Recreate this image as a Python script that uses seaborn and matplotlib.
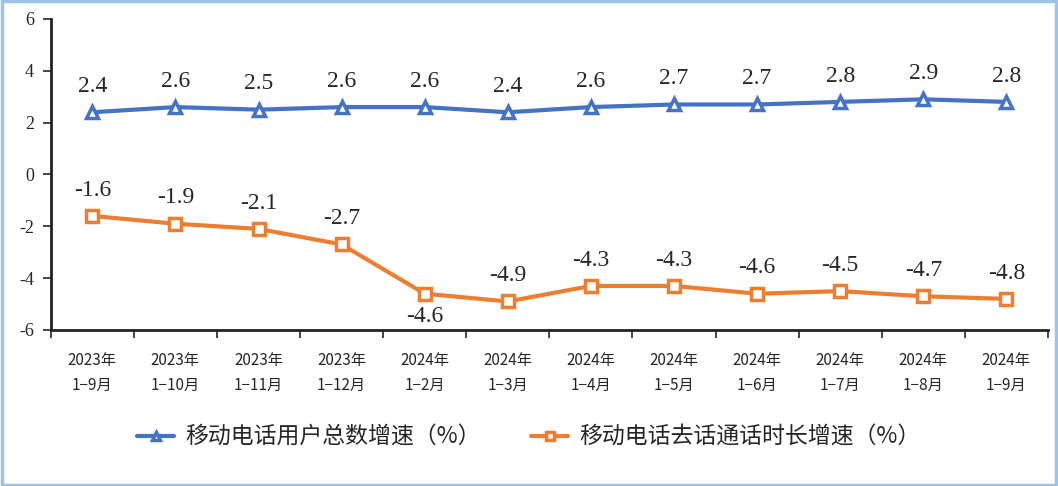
import matplotlib
matplotlib.use("Agg")
import matplotlib.pyplot as plt
import seaborn as sns
import pandas as pd
import numpy as np
from matplotlib.patches import Rectangle

categories = ["2023年\n1−9月", "2023年\n1−10月", "2023年\n1−11月", "2023年\n1−12月",
              "2024年\n1−2月", "2024年\n1−3月", "2024年\n1−4月", "2024年\n1−5月",
              "2024年\n1−6月", "2024年\n1−7月", "2024年\n1−8月", "2024年\n1−9月"]
users_growth = [2.4, 2.6, 2.5, 2.6, 2.6, 2.4, 2.6, 2.7, 2.7, 2.8, 2.9, 2.8]
call_growth = [-1.6, -1.9, -2.1, -2.7, -4.6, -4.9, -4.3, -4.3, -4.6, -4.5, -4.7, -4.8]
series_names = ["移动电话用户总数增速（%）", "移动电话去话通话时长增速（%）"]
yticks = [-6, -4, -2, 0, 2, 4, 6]

sns.set_style("white")
plt.rcParams['font.family'] = ['Noto Sans CJK SC', 'DejaVu Sans']

fig = plt.figure(figsize=(10.58, 4.86), dpi=100)
ax = fig.add_axes([0.048, 0.321, 0.9425, 0.64])

x = np.arange(len(categories))
df = pd.DataFrame({"x": np.concatenate([x, x]),
                   "v": users_growth + call_growth,
                   "s": [series_names[0]] * len(x) + [series_names[1]] * len(x)})
colors = {series_names[0]: "#4472C4", series_names[1]: "#ED7D31"}
sns.lineplot(data=df, x="x", y="v", hue="s", style="s", palette=colors,
             markers={series_names[0]: "^", series_names[1]: "s"}, dashes=False,
             linewidth=3, markersize=8, markerfacecolor="white", markeredgewidth=2.5,
             ax=ax, legend=True)

for line in ax.get_lines():
    line.set_markerfacecolor("white")
    line.set_markeredgecolor(line.get_color())

serif = ['Liberation Serif', 'DejaVu Serif']
for i, v in enumerate(users_growth):
    ax.annotate(f"{v}", (i, v), xytext=(0, 11), textcoords="offset points",
                ha="center", va="bottom", fontsize=17, family=serif)
for i, v in enumerate(call_growth):
    if i == 4:
        ax.annotate(f"{v}", (i, v), xytext=(0, -9), textcoords="offset points",
                    ha="center", va="top", fontsize=17, family=serif)
    else:
        ax.annotate(f"{v}", (i, v), xytext=(0, 11), textcoords="offset points",
                    ha="center", va="bottom", fontsize=17, family=serif)

ax.set_xlim(-0.5, len(categories) - 0.5)
ax.set_ylim(-6, 6)
ax.set_yticks(yticks)
ax.set_yticklabels([str(t) for t in yticks], family=serif, fontsize=13)
ax.set_xticks(x)
ax.set_xticklabels(categories, fontsize=11, linespacing=1.6)
ax.set_xticks(np.arange(-0.5, len(categories), 1), minor=True)
ax.tick_params(axis="x", which="major", length=0, pad=16)
ax.tick_params(axis="x", which="minor", length=6, width=1.2, direction="out", bottom=True)
ax.tick_params(axis="y", length=6, width=1.2, direction="out", left=True, pad=6)
ax.set_xlabel("")
ax.set_ylabel("")
for side in ["top", "right"]:
    ax.spines[side].set_visible(False)
for side in ["left", "bottom"]:
    ax.spines[side].set_color("#222222")
    ax.spines[side].set_linewidth(2)

handles, labels = ax.get_legend_handles_labels()
ax.legend_.remove()
fig.legend(handles, labels, loc="center", bbox_to_anchor=(0.5, 0.1), ncol=2,
           frameon=False, fontsize=16.5, handlelength=1.6, columnspacing=2.2,
           handletextpad=0.5, markerscale=0.8)

fig.add_artist(Rectangle((0.002, 0.003), 0.996, 0.994, transform=fig.transFigure,
                         fill=False, edgecolor="#9DC3E6", linewidth=2.5))

fig.savefig("out.png", dpi=100)
